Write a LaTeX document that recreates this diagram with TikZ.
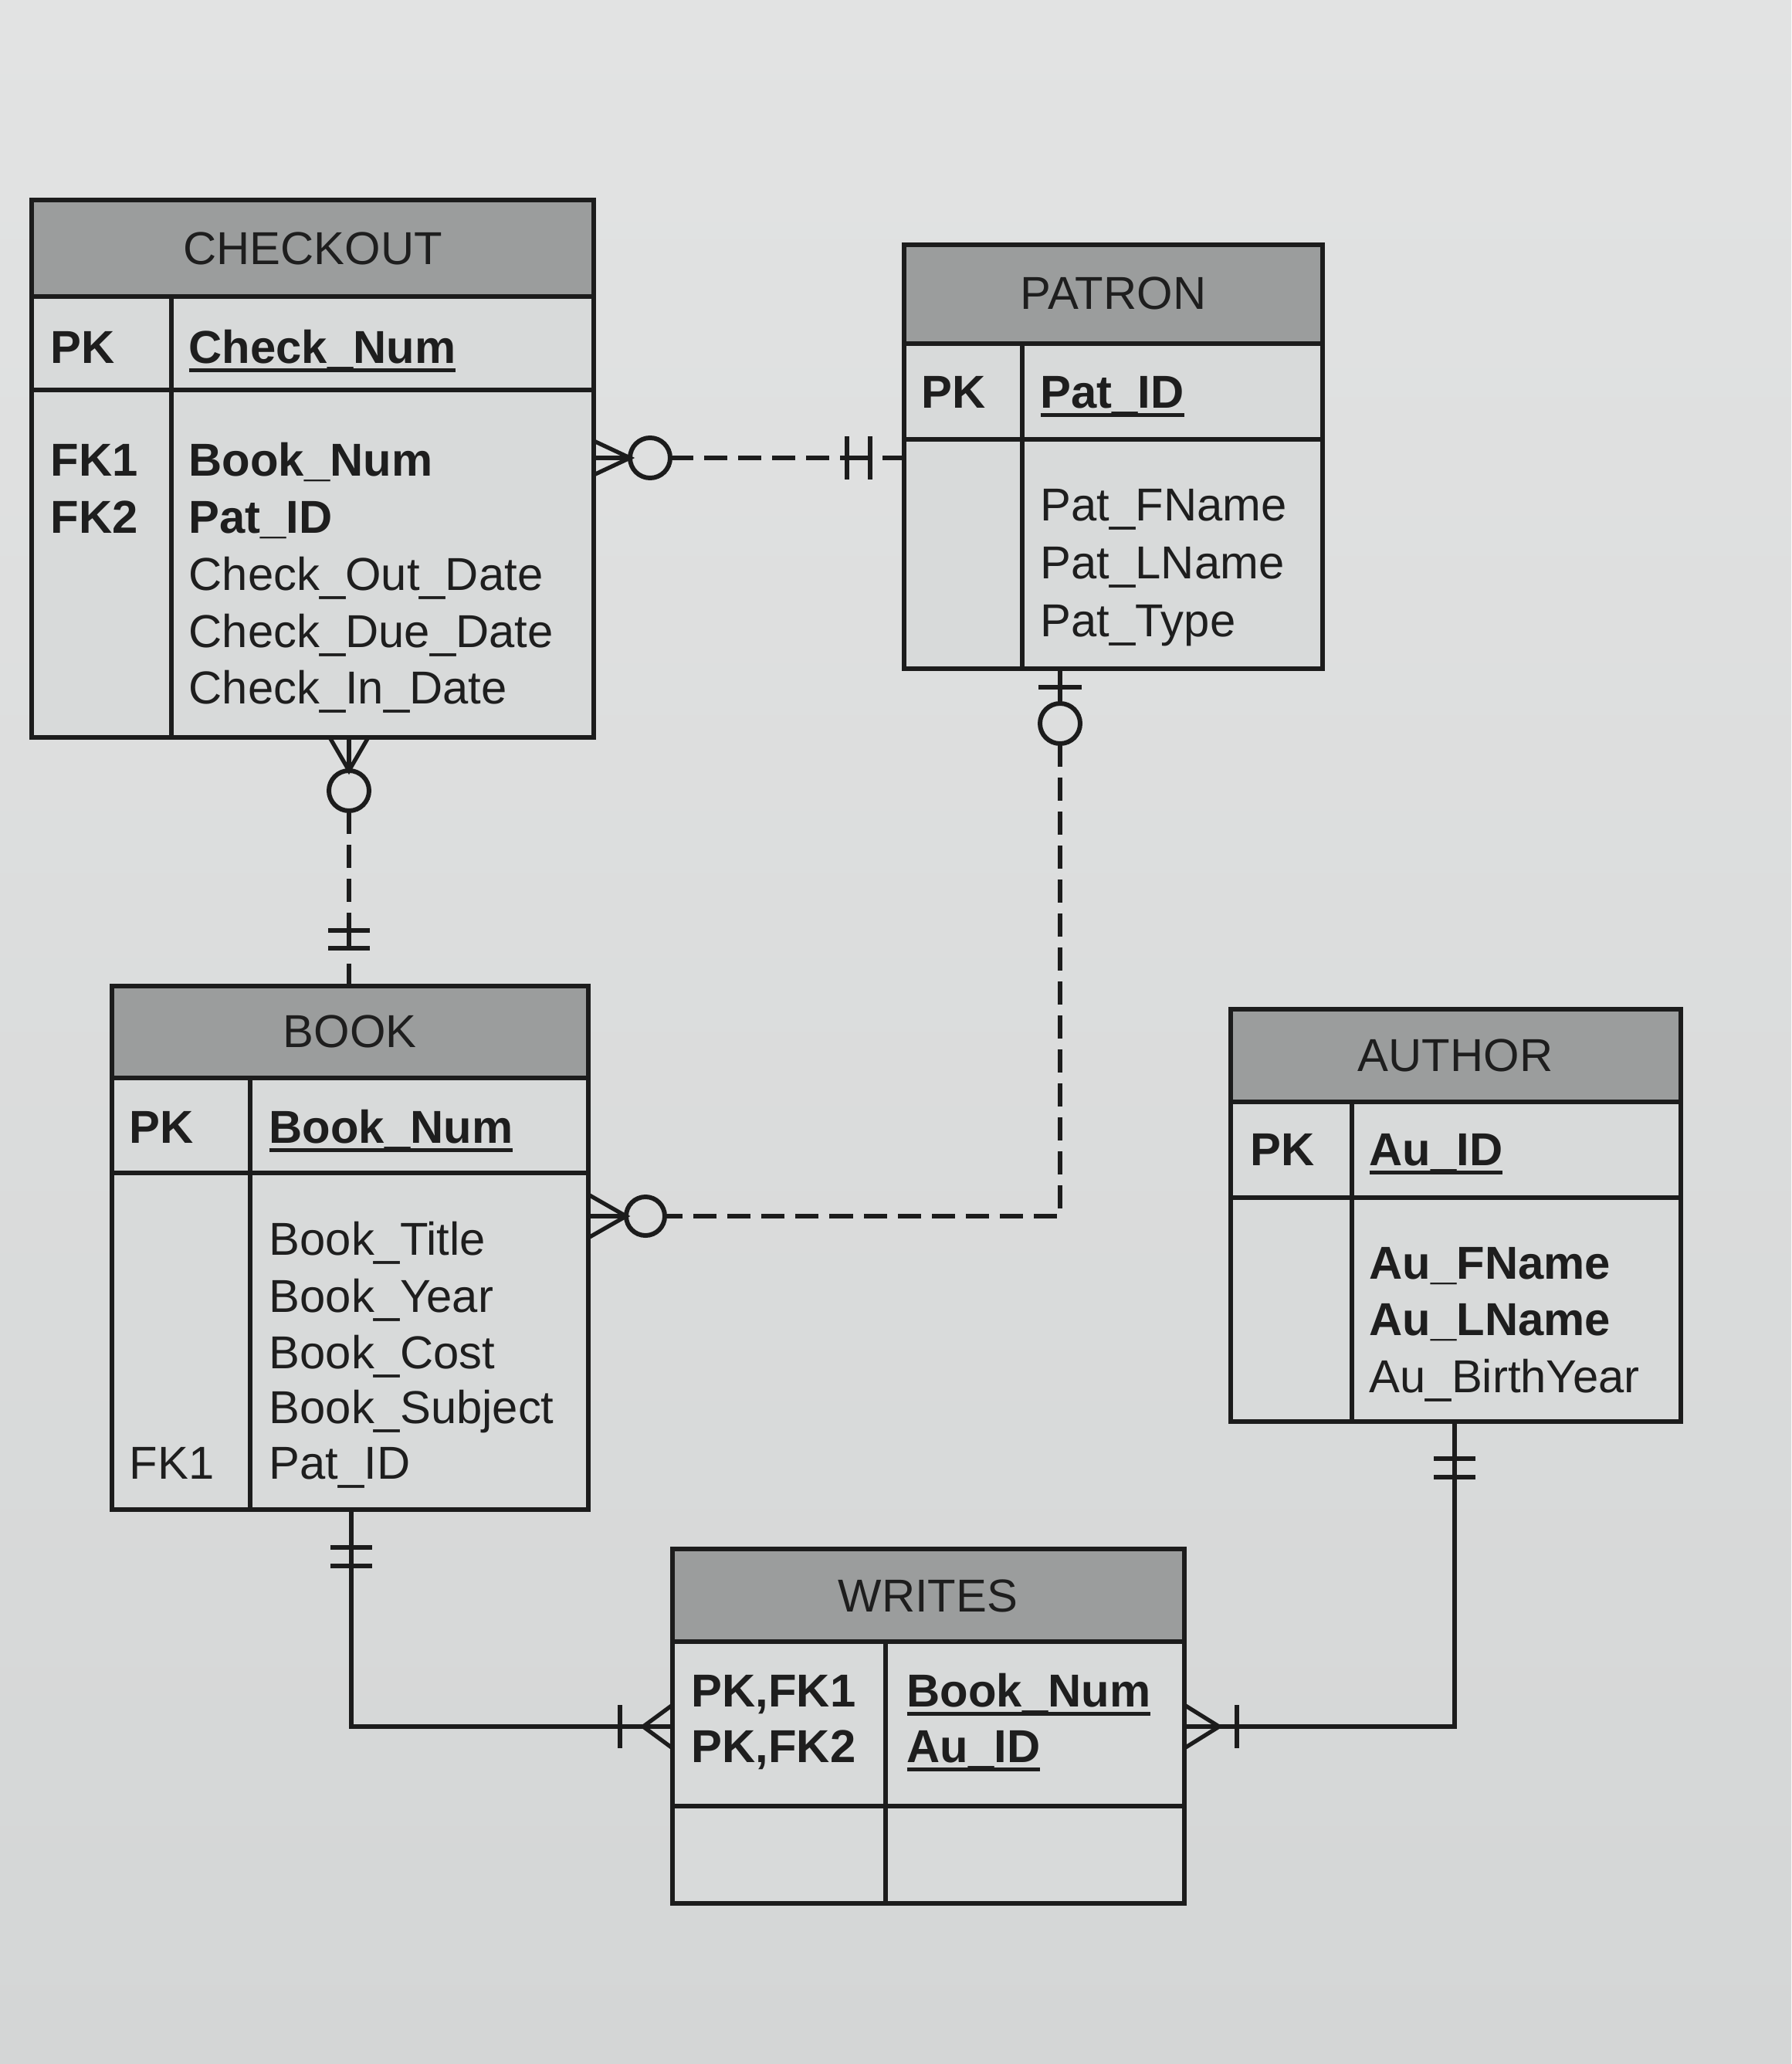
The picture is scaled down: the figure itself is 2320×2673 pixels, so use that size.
\documentclass[tikz,border=0pt]{standalone}
\usepackage{fontspec}
\setmainfont{Liberation Sans}
\usetikzlibrary{calc}
\definecolor{bgtop}{HTML}{E2E3E3}
\definecolor{bgbot}{HTML}{D4D6D6}
\definecolor{bodyc}{HTML}{D8DADA}
\definecolor{headc}{HTML}{9B9D9D}
\definecolor{linec}{HTML}{1C1C1C}
\definecolor{textc}{HTML}{1E1E1E}
\newcommand\pkline[1]{\leavevmode\setbox0\hbox{#1}\rlap{\vrule height -2.0pt depth 3.3pt width \wd0}\box0}
\newcommand\ertable[8]{%
  \node[tbl, anchor=north west, minimum width={(#4-#2)*0.01cm}, minimum height={(#5-#3)*0.01cm}] (#1) at (#2,#3) {};
  \fill[headc] (#2,#3) rectangle (#4,#6);
  \draw[tline] (#2,#6) -- (#4,#6) (#2,#7) -- (#4,#7) (#8,#6) -- (#8,#5);
  \draw[tline] (#1.north west) rectangle (#1.south east);
}
\tikzset{
  tbl/.style={fill=bodyc, inner sep=0pt, outer sep=0pt},
  tline/.style={line width=1.5pt, draw=linec},
  conn/.style={line width=1.5pt, draw=linec},
  dconn/.style={line width=1.8pt, draw=linec, dash pattern=on 0.3cm off 0.14cm},
  ring/.style={line width=1.7pt, draw=linec},
  ttl/.style={font=\fontsize{17}{21}\selectfont, text=textc, inner sep=0pt, anchor=base},
  txt/.style={font=\fontsize{17}{21}\selectfont, text=textc, inner sep=0pt, anchor=base west},
  btxt/.style={font=\fontsize{17}{21}\selectfont\bfseries, text=textc, inner sep=0pt, anchor=base west},
}
\begin{document}
\begin{tikzpicture}[x=0.01cm, y=-0.01cm]
\useasboundingbox (0,0) rectangle (2320,2673);
\shade[top color=bgtop, bottom color=bgbot] (0,0) rectangle (2320,2673);

% tables: name, x1, y1, x2, y2, header bottom, PK row bottom, divider x
\ertable{checkout}{41}{259}{769}{955}{384}{505}{222}
\ertable{patron}{1171}{317}{1713}{866}{445}{569}{1324}
\ertable{book}{145}{1277}{762}{1955}{1396}{1519}{324}
\ertable{author}{1594}{1307}{2177}{1841}{1427}{1551}{1751}
\ertable{writes}{871}{2006}{1534}{2465}{2126}{2339}{1147}

% CHECKOUT texts
\node[ttl] (coT) at (405,343) {CHECKOUT};
\node[btxt] (coPK) at (65,470) {PK};
\node[btxt] (coK) at (244,470) {\pkline{Check\_Num}};
\node[btxt] (coF1) at (65,616) {FK1};
\node[btxt] (coF2) at (65,690) {FK2};
\node[btxt] (coA1) at (244,616) {Book\_Num};
\node[btxt] (coA2) at (244,690) {Pat\_ID};
\node[txt] (coA3) at (244,764) {Check\_Out\_Date};
\node[txt] (coA4) at (244,838) {Check\_Due\_Date};
\node[txt] (coA5) at (244,911) {Check\_In\_Date};

% PATRON texts
\node[ttl] (paT) at (1442,401) {PATRON};
\node[btxt] (paPK) at (1193,528) {PK};
\node[btxt] (paK) at (1347,528) {\pkline{Pat\_ID}};
\node[txt] (paA1) at (1347,674) {Pat\_FName};
\node[txt] (paA2) at (1347,749) {Pat\_LName};
\node[txt] (paA3) at (1347,824) {Pat\_Type};

% BOOK texts
\node[ttl] (boT) at (453,1356) {BOOK};
\node[btxt] (boPK) at (167,1480) {PK};
\node[btxt] (boK) at (348,1480) {\pkline{Book\_Num}};
\node[txt] (boA1) at (348,1625) {Book\_Title};
\node[txt] (boA2) at (348,1699) {Book\_Year};
\node[txt] (boA3) at (348,1772) {Book\_Cost};
\node[txt] (boA4) at (348,1843) {Book\_Subject};
\node[txt] (boA5) at (348,1915) {Pat\_ID};
\node[txt] (boF1) at (167,1915) {FK1};

% AUTHOR texts
\node[ttl] (auT) at (1885,1387) {AUTHOR};
\node[btxt] (auPK) at (1619,1509) {PK};
\node[btxt] (auK) at (1773,1509) {\pkline{Au\_ID}};
\node[btxt] (auA1) at (1773,1656) {Au\_FName};
\node[btxt] (auA2) at (1773,1729) {Au\_LName};
\node[txt] (auA3) at (1773,1803) {Au\_BirthYear};

% WRITES texts
\node[ttl] (wrT) at (1202,2087) {WRITES};
\node[btxt] (wrPK1) at (895,2210) {PK,FK1};
\node[btxt] (wrPK2) at (895,2282) {PK,FK2};
\node[btxt] (wrK1) at (1174,2210) {\pkline{Book\_Num}};
\node[btxt] (wrK2) at (1174,2282) {\pkline{Au\_ID}};

% tracks
\coordinate (t1) at (0,593);
\coordinate (t2) at (452,0);
\coordinate (t3x) at (1373,0);
\coordinate (t3y) at (0,1575);
\coordinate (t4x) at (455,0);
\coordinate (t5x) at (1884,0);
\coordinate (t45y) at (0,2236);

% CHECKOUT (zero or many) --- PATRON (one and only one)
\coordinate (p1) at (checkout.east |- t1);
\coordinate (q1) at (patron.west |- t1);
\draw[conn] (p1) -- ++(47,0);
\draw[conn] (p1) ++(0,-22) -- ++(47,22) -- ++(-47,22);
\draw[ring] ($(p1)+(73,0)$) circle[radius=0.26cm];
\draw[dconn] ($(p1)+(99,0)$) -- ($(q1)+(-74,0)$);
\draw[conn] ($(q1)+(-74,-28)$) -- ++(0,56);
\draw[conn] ($(q1)+(-44,-28)$) -- ++(0,56);
\draw[conn] ($(q1)+(-74,0)$) -- ++(30,0);
\draw[conn] (q1) -- ++(-28,0);

% CHECKOUT (zero or many) --- BOOK (one and only one)
\coordinate (p2) at (checkout.south -| t2);
\coordinate (q2) at (book.north -| t2);
\draw[conn] (p2) -- ++(0,43);
\draw[conn] (p2) ++(-25,0) -- ++(25,43) -- ++(25,-43);
\draw[ring] ($(p2)+(0,69)$) circle[radius=0.26cm];
\draw[dconn] ($(p2)+(0,95)$) -- ($(q2)+(0,-72)$);
\draw[conn] ($(q2)+(-27,-72)$) -- ++(54,0);
\draw[conn] ($(q2)+(-27,-49)$) -- ++(54,0);
\draw[conn] ($(q2)+(0,-72)$) -- ++(0,23);
\draw[conn] (q2) -- ++(0,-29);

% PATRON (zero or one) --- BOOK (zero or many)
\coordinate (p3) at (patron.south -| t3x);
\coordinate (c3) at (t3x |- t3y);
\coordinate (q3) at (book.east |- t3y);
\draw[conn] (p3) -- ++(0,45);
\draw[conn] ($(p3)+(-28,24)$) -- ++(56,0);
\draw[ring] ($(p3)+(0,71)$) circle[radius=0.26cm];
\draw[dconn] ($(p3)+(0,97)$) -- (c3) -- ($(q3)+(99,0)$);
\draw[conn] (q3) -- ++(49,0);
\draw[conn] (q3) ++(0,-28) -- ++(49,28) -- ++(-49,28);
\draw[ring] ($(q3)+(74,0)$) circle[radius=0.25cm];

% BOOK (one and only one) --- WRITES (one or many)
\coordinate (p4) at (book.south -| t4x);
\coordinate (q4) at (writes.west |- t45y);
\draw[conn] (p4) -- (p4 |- t45y) -- (q4);
\draw[conn] ($(p4)+(-27,49)$) -- ++(54,0);
\draw[conn] ($(p4)+(-27,73)$) -- ++(54,0);
\draw[conn] ($(q4)+(-68,-28)$) -- ++(0,56);
\draw[conn] (q4) ++(0,-28) -- ++(-38,28) -- ++(38,28);

% AUTHOR (one and only one) --- WRITES (one or many)
\coordinate (p5) at (author.south -| t5x);
\coordinate (q5) at (writes.east |- t45y);
\draw[conn] (p5) -- (p5 |- t45y) -- (q5);
\draw[conn] ($(p5)+(-27,48)$) -- ++(54,0);
\draw[conn] ($(p5)+(-27,72)$) -- ++(54,0);
\draw[conn] ($(q5)+(68,-28)$) -- ++(0,56);
\draw[conn] (q5) ++(0,-28) -- ++(45,28) -- ++(-45,28);
\end{tikzpicture}
\end{document}
